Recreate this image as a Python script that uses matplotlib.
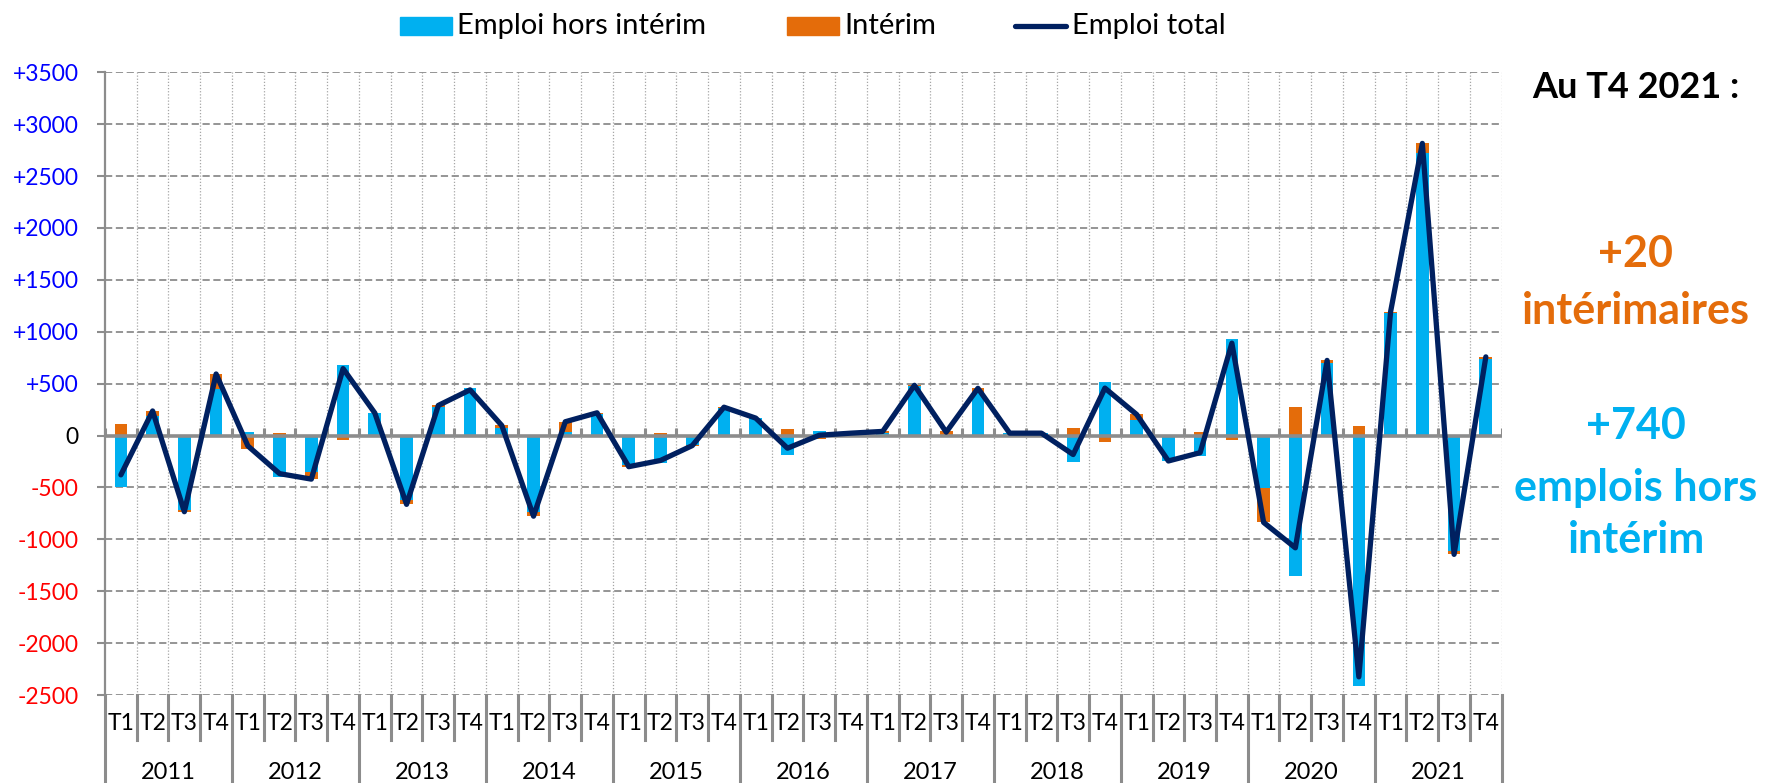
import numpy as np
import matplotlib
matplotlib.use("Agg")
import matplotlib.pyplot as plt
from matplotlib.patches import Rectangle
from matplotlib.lines import Line2D

plt.rcParams['font.family'] = ['Lato', 'DejaVu Sans']

# data, 2011 T1 -> 2021 T4
years = ['2011', '2012', '2013', '2014', '2015', '2016', '2017', '2018', '2019', '2020', '2021']
quarters = ['T1', 'T2', 'T3', 'T4']
hors_interim = [-495, 185, -718, 445, 30, -395, -355, 684, 215, -623, 275, 455,
                70, -732, 30, 212, -285, -265, -87, 265, 165, -187, 40, 20,
                25, 480, -15, 420, 20, 20, -258, 517, 148, -250, -195, 932,
                -502, -1355, 702, -2415, 1178, 2725, -1108, 738]
interim = [116, 52, -16, 148, -130, 28, -65, -39, 2, -40, 15, -15,
           27, -45, 103, 7, -15, 25, -10, 8, 3, 65, -37, 3,
           15, 4, 48, 35, 3, 3, 75, -60, 55, 5, 30, -42,
           -335, 273, 22, 90, 15, 90, -37, 20]
emploi_total = [-379, 237, -734, 593, -100, -367, -420, 645, 217, -663, 290, 440,
                97, -777, 133, 219, -300, -240, -97, 273, 168, -122, 3, 23,
                40, 484, 33, 455, 23, 23, -183, 457, 203, -245, -165, 890,
                -837, -1082, 724, -2325, 1193, 2815, -1145, 758]
yticks = [-2500, -2000, -1500, -1000, -500, 0, 500, 1000, 1500, 2000, 2500, 3000, 3500]

BLUE = '#00B0F0'
ORANGE = '#E46C0A'
NAVY = '#002060'
GRID = '#8c8c8c'

W, H = 1766, 783
fig = plt.figure(figsize=(W / 100, H / 100), dpi=100)
ax = fig.add_axes([105 / W, 1 - 695 / H, (1501.7 - 105) / W, (695 - 72.3) / H])

n = len(hors_interim)
x = np.arange(n)
hi = np.array(hors_interim)
it = np.array(interim)
bottom_it = np.where(np.sign(it) == np.sign(hi), hi, 0)

ax.bar(x, hi, width=0.4, color=BLUE, zorder=2)
ax.bar(x, it, width=0.4, bottom=bottom_it, color=ORANGE, zorder=2)

# grid
for v in yticks:
    if v != 0:
        ax.axhline(v, color=GRID, lw=1.3, ls=(0, (4, 2)), zorder=0.5)
bounds = np.arange(n + 1) - 0.5
ax.vlines(bounds[1:], -2500, 3500, color='#a6a6a6', lw=0.9, ls=(0, (1, 1.5)), zorder=0.4)

# zero axis with small ticks
ax.axhline(0, color=GRID, lw=2.6, zorder=3)
ax.vlines(bounds, 0, 75, color=GRID, lw=2.2, zorder=3)

ax.plot(x, emploi_total, color=NAVY, lw=3.8, solid_joinstyle='round',
        solid_capstyle='round', zorder=4)

ax.set_xlim(-0.5, n - 0.5)
ax.set_ylim(-2500, 3500)
ax.set_xticks([])
ax.set_yticks(yticks)
labels = []
for v in yticks:
    labels.append('+%d' % v if v > 0 else '%d' % v)
ax.set_yticklabels(labels, fontsize=16.5)
for lab, v in zip(ax.get_yticklabels(), yticks):
    lab.set_color('#0000FF' if v > 0 else ('#FF0000' if v < 0 else 'black'))
ax.tick_params(axis='y', length=6, width=1.5, color=GRID, pad=13)
for s in ['top', 'right', 'bottom']:
    ax.spines[s].set_visible(False)
ax.spines['left'].set_color(GRID)
ax.spines['left'].set_linewidth(1.6)

# two-level category axis
tr = ax.get_xaxis_transform()
for k, b in enumerate(bounds):
    if k % 4 == 0:
        ax.plot([b, b], [0, -0.142], transform=tr, color=GRID, lw=2.2, clip_on=False)
    else:
        ax.plot([b, b], [0, -0.0723], transform=tr, color=GRID, lw=2.2, clip_on=False)
for i in range(n):
    ax.text(i, -0.045, quarters[i % 4], transform=tr, ha='center', va='center', fontsize=16.5)
for j, yr in enumerate(years):
    ax.text(4 * j + 1.5, -0.1237, yr, transform=tr, ha='center', va='center', fontsize=17)

# legend drawn by hand
def fx(px):
    return px / W

def fy(py):
    return 1 - py / H

fig.add_artist(Rectangle((fx(400), fy(35)), fx(52), 18 / H, color=BLUE, transform=fig.transFigure))
fig.text(fx(457), fy(26), 'Emploi hors intérim', fontsize=21, va='center', ha='left')
fig.add_artist(Rectangle((fx(787), fy(35)), fx(52), 18 / H, color=ORANGE, transform=fig.transFigure))
fig.text(fx(844), fy(26), 'Intérim', fontsize=21, va='center', ha='left')
fig.add_artist(Line2D([fx(1015), fx(1066)], [fy(26), fy(26)], color=NAVY, lw=3.8,
                      solid_capstyle='round', transform=fig.transFigure))
fig.text(fx(1072), fy(26), 'Emploi total', fontsize=21, va='center', ha='left')

# right-hand annotation
cx = fx(1636)
fig.text(cx, fy(88), 'Au T4 2021 :', fontsize=26, fontweight='bold', ha='center', va='center')
fig.text(cx, fy(254), '+20', fontsize=31, fontweight='bold', color=ORANGE, ha='center', va='center')
fig.text(cx, fy(311), 'intérimaires', fontsize=31, fontweight='bold', color=ORANGE, ha='center', va='center')
fig.text(cx, fy(426), '+740', fontsize=31, fontweight='bold', color=BLUE, ha='center', va='center')
fig.text(cx, fy(488), 'emplois hors', fontsize=31, fontweight='bold', color=BLUE, ha='center', va='center')
fig.text(cx, fy(540), 'intérim', fontsize=31, fontweight='bold', color=BLUE, ha='center', va='center')

fig.savefig('out.png', dpi=100)
